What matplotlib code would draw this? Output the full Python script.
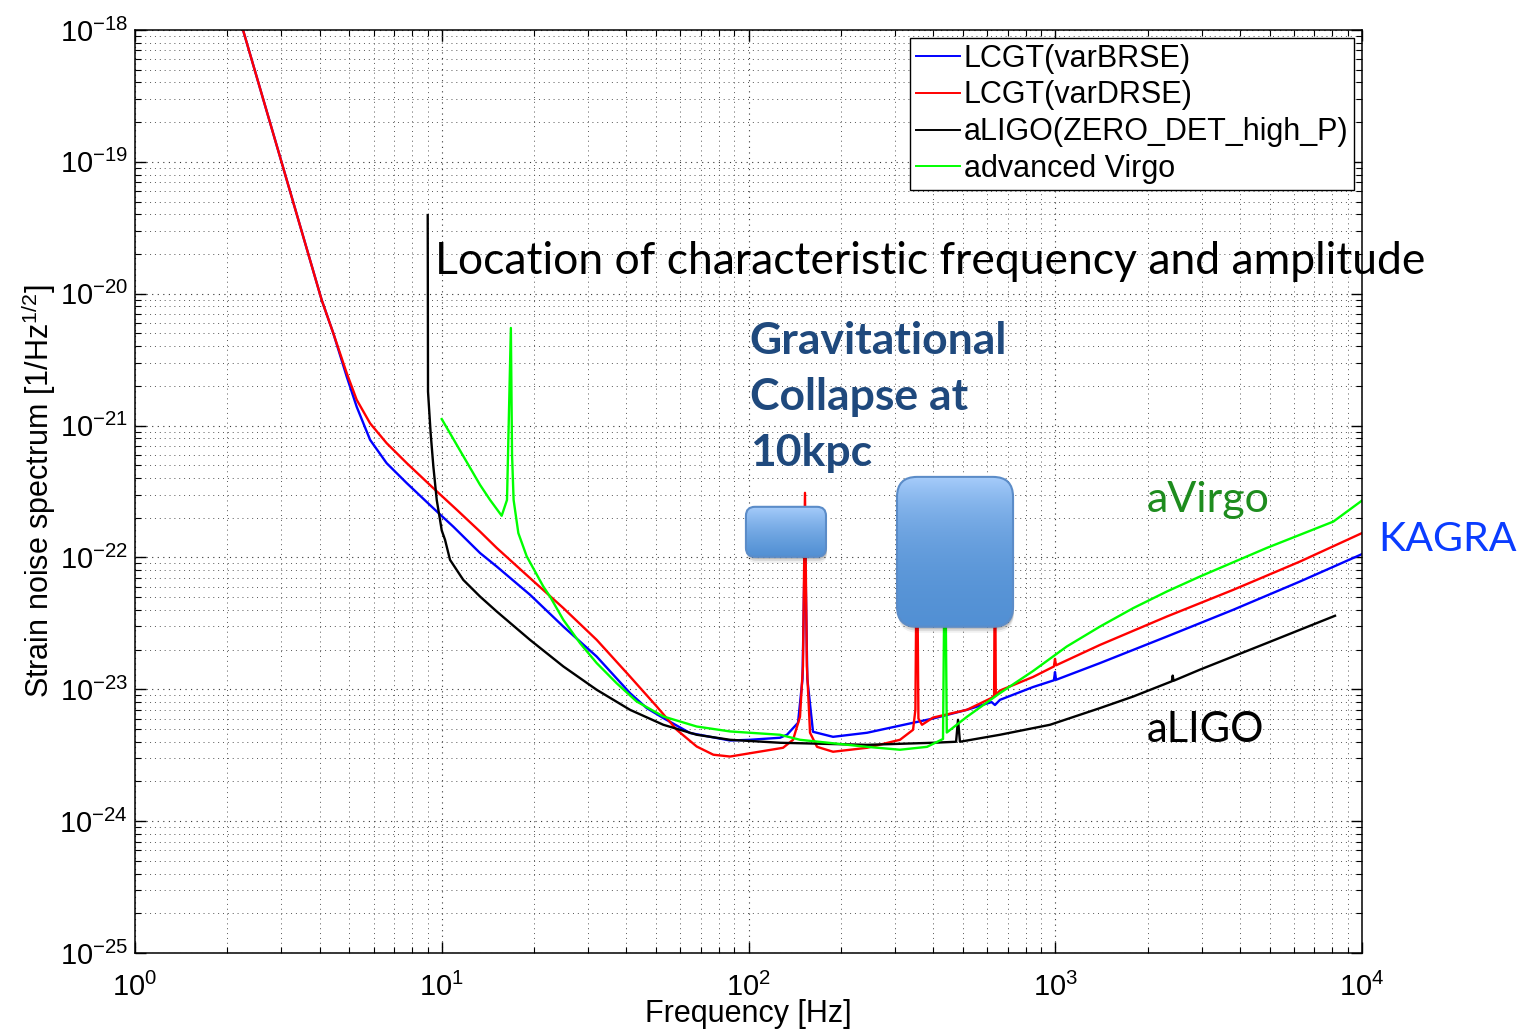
#!/usr/bin/env python3
"""Strain noise spectra of LCGT/KAGRA, aLIGO and AdVirgo with collapse-signal regions."""
import matplotlib
matplotlib.use("Agg")
import matplotlib.pyplot as plt
import numpy as np
from matplotlib.colors import LinearSegmentedColormap
from matplotlib.patches import FancyBboxPatch
from matplotlib.ticker import FixedLocator, NullFormatter
from matplotlib.transforms import IdentityTransform

# LCGT(varBRSE)
brse_f = [2.25, 3.01, 4.06, 4.43, 4.90, 5.28, 5.84, 6.61, 7.69, 9.39,
          10.91, 13.33, 15.11, 19.40, 24.91, 32.00, 41.08, 46.58, 52.77, 64.47,
          87.03, 101.1, 126.7, 133.5, 145.0, 150.0, 152.8, 155.5, 162.3, 188.6,
          243.4, 343.9, 399.5, 515.5, 620.0, 636.0, 660.5, 846.3, 990.0, 998.0,
          1006.0, 1399.0, 2309.0, 3805.0, 6281.0, 10000.0]
brse_h = [1.0e-18, 9.81e-20, 8.97e-21, 5.02e-21, 2.35e-21, 1.39e-21, 7.79e-22, 5.19e-22, 3.66e-22, 2.36e-22,
          1.71e-22, 1.08e-22, 8.53e-23, 5.21e-23, 2.99e-23, 1.77e-23, 9.36e-24, 7.20e-24, 6.05e-24, 4.66e-24,
          4.09e-24, 4.14e-24, 4.29e-24, 4.52e-24, 5.57e-24, 1.2e-23, 1.5e-22, 1.2e-23, 4.76e-24, 4.36e-24,
          4.68e-24, 5.57e-24, 6.0e-24, 6.99e-24, 8.0e-24, 7.6e-24, 8.32e-24, 1.04e-23, 1.17e-23, 1.35e-23,
          1.18e-23, 1.58e-23, 2.51e-23, 4.01e-23, 6.57e-23, 1.06e-22]

# LCGT(varDRSE)
drse_f = [2.25, 3.01, 4.06, 4.43, 4.90, 5.28, 5.84, 6.61, 7.69, 9.39,
          11.19, 13.33, 15.11, 19.40, 24.91, 32.00, 41.08, 50.20, 58.33, 67.80,
          76.80, 87.03, 129.6, 139.7, 147.2, 150.5, 152.8, 155.0, 158.7, 167.3,
          188.6, 243.4, 311.8, 343.9, 350.0, 354.0, 358.0, 367.8, 399.5, 515.5,
          620.0, 632.0, 636.0, 640.0, 660.5, 846.3, 990.0, 998.0, 1006.0, 1399.0,
          2309.0, 3805.0, 6281.0, 10000.0]
drse_h = [1.0e-18, 9.81e-20, 8.97e-21, 5.02e-21, 2.50e-21, 1.57e-21, 1.04e-21, 7.36e-22, 5.19e-22, 3.35e-22,
          2.30e-22, 1.57e-22, 1.18e-22, 6.97e-23, 4.13e-23, 2.37e-23, 1.25e-23, 7.41e-24, 4.93e-24, 3.68e-24,
          3.19e-24, 3.09e-24, 3.60e-24, 4.14e-24, 6.19e-24, 1.5e-23, 3.09e-22, 1.5e-23, 4.68e-24, 3.66e-24,
          3.36e-24, 3.60e-24, 4.14e-24, 4.93e-24, 7.0e-24, 2.0e-22, 6.0e-24, 5.38e-24, 6.1e-24, 6.99e-24,
          8.6e-24, 9.0e-24, 2.0e-22, 9.1e-24, 9.79e-24, 1.24e-23, 1.49e-23, 1.70e-23, 1.52e-23, 2.17e-23,
          3.56e-23, 5.68e-23, 9.31e-23, 1.53e-22]

# aLIGO(ZERO_DET_high_P)
aligo_f = [9.0, 9.02, 9.20, 9.39, 9.63, 9.87, 10.0, 10.25, 10.64, 11.75,
           13.33, 15.11, 19.40, 24.91, 32.00, 41.08, 52.77, 67.80, 87.03, 126.7,
           243.4, 399.5, 475.0, 482.0, 489.0, 660.5, 961.4, 1399.0, 1797.0, 2309.0,
           2400.0, 2415.0, 2430.0, 2965.0, 4890.0, 8166.0]
aligo_h = [3.95e-20, 1.81e-21, 8.76e-22, 4.89e-22, 2.73e-22, 1.93e-22, 1.6e-22, 1.36e-22, 9.59e-23, 6.76e-23,
           5.05e-23, 3.89e-23, 2.37e-23, 1.49e-23, 9.91e-24, 6.99e-24, 5.38e-24, 4.52e-24, 4.14e-24, 3.93e-24,
           3.79e-24, 3.93e-24, 4.0e-24, 5.87e-24, 4.0e-24, 4.52e-24, 5.38e-24, 7.20e-24, 8.82e-24, 1.11e-23,
           1.15e-23, 1.27e-23, 1.16e-23, 1.41e-23, 2.24e-23, 3.61e-23]

# advanced Virgo
virgo_f = [10.0, 13.33, 14.37, 15.68, 16.32, 16.8, 16.95, 17.15, 17.77, 18.92,
           21.43, 22.54, 24.91, 28.23, 32.00, 37.18, 43.20, 52.77, 67.80, 87.03,
           126.7, 147.2, 243.4, 311.8, 381.9, 430.6, 437.0, 443.0, 515.5, 660.5,
           848.2, 1090.0, 1399.0, 1797.0, 2309.0, 2965.0, 4890.0, 8064.0, 10000.0]
virgo_h = [1.12e-21, 3.55e-22, 2.73e-22, 2.07e-22, 2.73e-22, 5.5e-21, 6.0e-22, 2.73e-22, 1.53e-22, 1.02e-22,
           6.02e-23, 5.05e-23, 3.36e-23, 2.24e-23, 1.58e-23, 1.11e-23, 8.08e-24, 6.22e-24, 5.22e-24, 4.79e-24,
           4.52e-24, 4.14e-24, 3.66e-24, 3.48e-24, 3.66e-24, 4.2e-24, 2.0e-22, 4.7e-24, 6.19e-24, 9.36e-24,
           1.38e-23, 2.11e-23, 2.99e-23, 4.13e-23, 5.51e-23, 7.17e-23, 1.18e-22, 1.87e-22, 2.70e-22]

# gravitational collapse at 10 kpc: frequency / amplitude regions
collapse_f_lo = [98.1, 304.9]
collapse_f_hi = [178.9, 728.4]
collapse_h_lo = [1.01e-22, 2.98e-23]
collapse_h_hi = [2.42e-22, 4.08e-22]
collapse_radius = [9, 20]

# axis decades
x_decades = [1e0, 1e1, 1e2, 1e3, 1e4]
y_decades = [1e-25, 1e-24, 1e-23, 1e-22, 1e-21, 1e-20, 1e-19, 1e-18]

plt.rcParams["font.family"] = ["Liberation Sans", "DejaVu Sans"]
plt.rcParams["mathtext.fontset"] = "custom"
plt.rcParams["mathtext.rm"] = "Liberation Sans"
plt.rcParams["mathtext.it"] = "Liberation Sans:italic"
plt.rcParams["mathtext.bf"] = "Liberation Sans:bold"

fig = plt.figure(figsize=(15.2, 10.35), dpi=100)
ax = fig.add_axes([135 / 1520, 1 - 953 / 1035, (1362 - 135) / 1520, (953 - 30) / 1035])

lw = 1.7
ax.plot(brse_f, brse_h, color="#0000ff", lw=lw, label="LCGT(varBRSE)", zorder=2)
ax.plot(drse_f, drse_h, color="#ff0000", lw=lw, label="LCGT(varDRSE)", zorder=2.1)
ax.plot(aligo_f, aligo_h, color="#000000", lw=lw, label="aLIGO(ZERO_DET_high_P)", zorder=2.2)
ax.plot(virgo_f, virgo_h, color="#00ff00", lw=lw, label="advanced Virgo", zorder=2.3)

ax.set_xscale("log")
ax.set_yscale("log")
ax.set_xlim(x_decades[0], x_decades[-1])
ax.set_ylim(y_decades[0], y_decades[-1])

x_minor = [d * k for d in x_decades[:-1] for k in range(2, 10)]
y_minor = [d * k for d in y_decades[:-1] for k in range(2, 10)]
ax.xaxis.set_major_locator(FixedLocator(x_decades))
ax.yaxis.set_major_locator(FixedLocator(y_decades))
ax.xaxis.set_minor_locator(FixedLocator(x_minor))
ax.yaxis.set_minor_locator(FixedLocator(y_minor))
ax.xaxis.set_minor_formatter(NullFormatter())
ax.yaxis.set_minor_formatter(NullFormatter())

ax.grid(True, which="major", linestyle=(0, (1, 4)), color="#333333", lw=0.8)
ax.grid(True, which="minor", linestyle=(0, (1, 4)), color="#555555", lw=0.7)
ax.tick_params(which="both", direction="in", top=True, right=True, labelsize=21)
ax.tick_params(which="major", length=8, width=1.0)
ax.tick_params(axis="x", which="major", pad=14)
ax.tick_params(axis="y", which="major", pad=5)
ax.tick_params(which="minor", length=4, width=0.8, labelbottom=False, labelleft=False)
for s in ax.spines.values():
    s.set_linewidth(1.1)

ax.set_xlabel("Frequency [Hz]", fontsize=22)
ax.set_ylabel("Strain noise spectrum [1/Hz$^{1/2}$]", fontsize=22)
ax.xaxis.set_label_coords(0.5, -0.05)
ax.yaxis.set_label_coords(-0.063, 0.5)

leg = ax.legend(loc="upper right", fontsize=22, frameon=True, fancybox=False,
                edgecolor="black", framealpha=1, borderaxespad=0.25, handlelength=1.45,
                handletextpad=0.12, labelspacing=0.22, borderpad=0.2)
leg.get_frame().set_linewidth(1.0)
for ln in leg.get_lines():
    ln.set_linewidth(1.4)
leg.set_zorder(10)

# signal regions: rounded gradient boxes with a soft shadow
grad_cmap = LinearSegmentedColormap.from_list("box", ["#5290d4", "#a7cdfb"])
grad = np.linspace(0, 1, 256).reshape(-1, 1)
for f0, f1, h0, h1, rad in zip(collapse_f_lo, collapse_f_hi, collapse_h_lo,
                               collapse_h_hi, collapse_radius):
    x0, y0 = ax.transData.transform((f0, h0))
    x1, y1 = ax.transData.transform((f1, h1))
    style = f"round,pad=0,rounding_size={rad}"
    for k, a in ((6, 0.06), (4, 0.10), (2, 0.14)):
        sh = FancyBboxPatch((x0 + 1, y0 - k), x1 - x0, y1 - y0, boxstyle=style,
                            transform=IdentityTransform(), facecolor="black",
                            edgecolor="none", alpha=a, zorder=3)
        ax.add_artist(sh)
    box = FancyBboxPatch((x0, y0), x1 - x0, y1 - y0, boxstyle=style,
                         transform=IdentityTransform(), facecolor="none",
                         edgecolor="#5b8cc8", lw=1.5, zorder=4)
    ax.add_artist(box)
    im = ax.imshow(grad, extent=(f0, f1, h0, h1), origin="lower", aspect="auto",
                   cmap=grad_cmap, zorder=3.5, interpolation="bilinear")
    im.set_clip_path(box)

ax.set_xlim(x_decades[0], x_decades[-1])
ax.set_ylim(y_decades[0], y_decades[-1])

calibri = ["Lato", "DejaVu Sans"]
ax.text(9.5, 1.74e-20, "Location of characteristic frequency and amplitude",
        fontsize=32, family=calibri, va="center", ha="left", zorder=6)
ax.text(101, 1.65e-21, "Gravitational\nCollapse at\n10kpc", fontsize=32,
        family=calibri, fontweight="bold", color="#1f497d", va="center", ha="left",
        linespacing=1.48, zorder=6)
ax.text(1991, 2.73e-22, "aVirgo", fontsize=31, family=calibri, color="#1e8c1e",
        va="center", ha="left", zorder=6)
ax.text(1991, 4.93e-24, "aLIGO", fontsize=30, family=calibri, color="black",
        va="center", ha="left", zorder=6)
ax.text(11276, 1.36e-22, "KAGRA", fontsize=29.5, family=calibri, color="#0a3cff",
        va="center", ha="left", zorder=6, clip_on=False)

fig.savefig("out.png", dpi=100)
